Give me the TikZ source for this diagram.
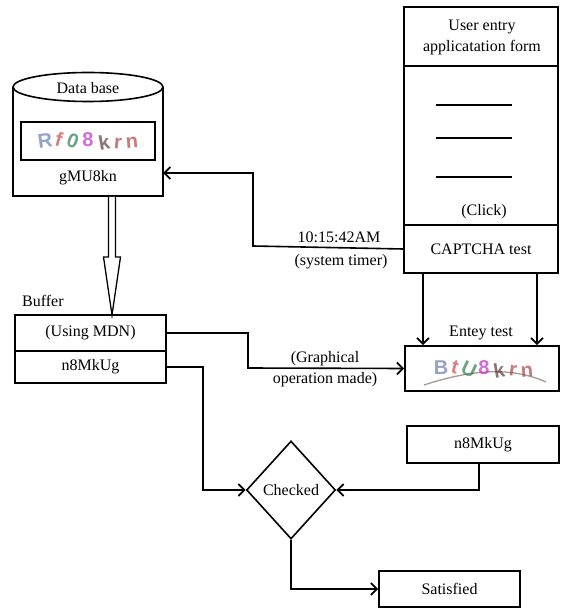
\documentclass[tikz,border=0pt]{standalone}
\usepackage{fontspec}
\setmainfont{Liberation Serif}
\setsansfont{Liberation Sans}
\usetikzlibrary{arrows.meta,shapes.geometric,calc}
\definecolor{cpBlue}{HTML}{6A7BB0}
\definecolor{cpRed}{HTML}{D04848}
\definecolor{cpGreen}{HTML}{2E7D4F}
\definecolor{cpMag}{HTML}{C030C8}
\definecolor{cpDark}{HTML}{5A3A3A}
\definecolor{cpBrown}{HTML}{B04040}
\tikzset{
  every node/.style={font=\fontsize{16}{21}\selectfont},
  box/.style={draw, line width=1.6pt, rectangle, inner sep=0pt, align=center},
  line/.style={line width=1.6pt},
  arr/.style={line width=1.6pt, -{Straight Barb[length=6pt,width=12pt,line width=1.8pt]}},
  cl/.style={font=\sffamily\bfseries\fontsize{20}{20}\selectfont, inner sep=0pt, opacity=0.7},
  lbl/.style={inner sep=0pt, align=center}
}
\begin{document}
\begin{tikzpicture}[x=1pt,y=-1pt]
\clip (0,0) rectangle (560,609);
\fill[white] (0,0) rectangle (560,609);

% ---------- Data base cylinder ----------
\draw[line] (13,87) -- (13,196) -- (163,196) -- (163,87);
\draw[line, fill=white] (88,87) ellipse [x radius=75, y radius=14.5];
\node[lbl] (dbt) at (88,88) {Data base};
\node[inner sep=0pt, minimum width=150pt, minimum height=109pt] (db) at (88,141.5) {};
\node[box, minimum width=134pt, minimum height=38pt] (dbimg) at (88,141) {};
\node[lbl] (dbcode) at (88,178) {gMU8kn};
\coordinate (dbin) at (163,173);
% captcha glyphs (data base)
\node[cl, text=cpBlue, rotate=8] (g1) at (45,141) {R};
\node[cl, text=cpRed, rotate=-15] (g2) at (59,139) {f};
\node[cl, text=cpGreen, rotate=-20] (g3) at (73,141) {0};
\node[cl, text=cpMag] (g4) at (88,140) {8};
\node[cl, text=cpDark, rotate=10] (g5) at (104,142) {k};
\node[cl, text=cpBrown, rotate=-5] (g6) at (118,143) {r};
\node[cl, text=cpBrown, rotate=5] (g7) at (132,143) {n};

% ---------- hollow arrow ----------
\draw[line width=1.3pt, fill=white] (108.5,196.8) -- (108.5,257) -- (103.5,257) -- (112,315) -- (120.5,257) -- (115.5,257) -- (115.5,196.8);

% ---------- Buffer ----------
\node[lbl, anchor=west] (buflbl) at (22,301) {Buffer};
\node[box, minimum width=151pt, minimum height=36pt] (buf1) at (90.5,333) {(Using MDN)};
\node[box, minimum width=151pt, minimum height=32pt] (buf2) at (90.5,367) {n8MkUg};

% ---------- User form ----------
\draw[line] (404,7) rectangle (558,273);
\draw[line] (404,66) -- (558,66);
\node[lbl] (formt) at (482,37) {User entry\\applicatation form};
\draw[line] (436,105) -- (512,105);
\draw[line] (436,138) -- (512,138);
\draw[line] (436,177) -- (512,177);
\node[lbl] (click) at (484,212) {(Click)};
\node[box, minimum width=154pt, minimum height=48pt] (ctest) at (481,249) {CAPTCHA test};

% ---------- Entry test ----------
\node[lbl] (entl) at (481,333) {Entey test};
\node[box, minimum width=154pt, minimum height=45pt] (entry) at (482,368.5) {};
\draw[cpDark!70, line width=1.3pt, opacity=0.75] (424,385) .. controls (470,370) and (510,366) .. (546,382);
\node[cl, text=cpBlue] (e1) at (441,368) {B};
\node[cl, text=cpRed, rotate=-15] (e2) at (455,367) {t};
\node[cl, text=cpGreen, rotate=-25] (e3) at (469,369) {U};
\node[cl, text=cpMag] (e4) at (484,368) {8};
\node[cl, text=cpDark, rotate=10] (e5) at (499,370) {k};
\node[cl, text=cpBrown, rotate=-8] (e6) at (513,371) {r};
\node[cl, text=cpBrown, rotate=5] (e7) at (527,372) {n};

% ---------- right n8MkUg ----------
\node[box, minimum width=152pt, minimum height=37pt] (n8r) at (483,444.5) {n8MkUg};

% ---------- Checked diamond ----------
\node[draw, line width=1.6pt, diamond, inner sep=0pt, minimum width=89pt, minimum height=98pt] (chk) at (291,490) {Checked};

% ---------- Satisfied ----------
\node[box, minimum width=141pt, minimum height=36pt] (sat) at (449.5,589) {Satisfied};

% ---------- connectors ----------
\draw[arr] (ctest.west) -- (253,246) -- (253,173) -- (dbin);
\node[lbl] (time) at (339,237) {10:15:42AM};
\node[lbl] (timer) at (341,262) {(system timer)};

\draw[arr] ([xshift=-58pt]ctest.south) -- ([xshift=-58pt]ctest.south |- entry.north);
\draw[arr] ([xshift=56pt]ctest.south) -- ([xshift=56pt]ctest.south |- entry.north);

\draw[arr] (buf1.east) -- (248,333) -- (248,368) -- (entry.west);
\node[lbl] (gop) at (325,369) {(Graphical\\operation made)};

\draw[arr] (buf2.east) -- (203,367) -- (203,490) -- (chk.west);
\draw[arr] ([xshift=-4pt]n8r.south) -- ([xshift=-4pt]n8r.south |- chk.east) -- (chk.east);
\draw[arr] (chk.south) -- (291,589) -- (sat.west);
\end{tikzpicture}
\end{document}
